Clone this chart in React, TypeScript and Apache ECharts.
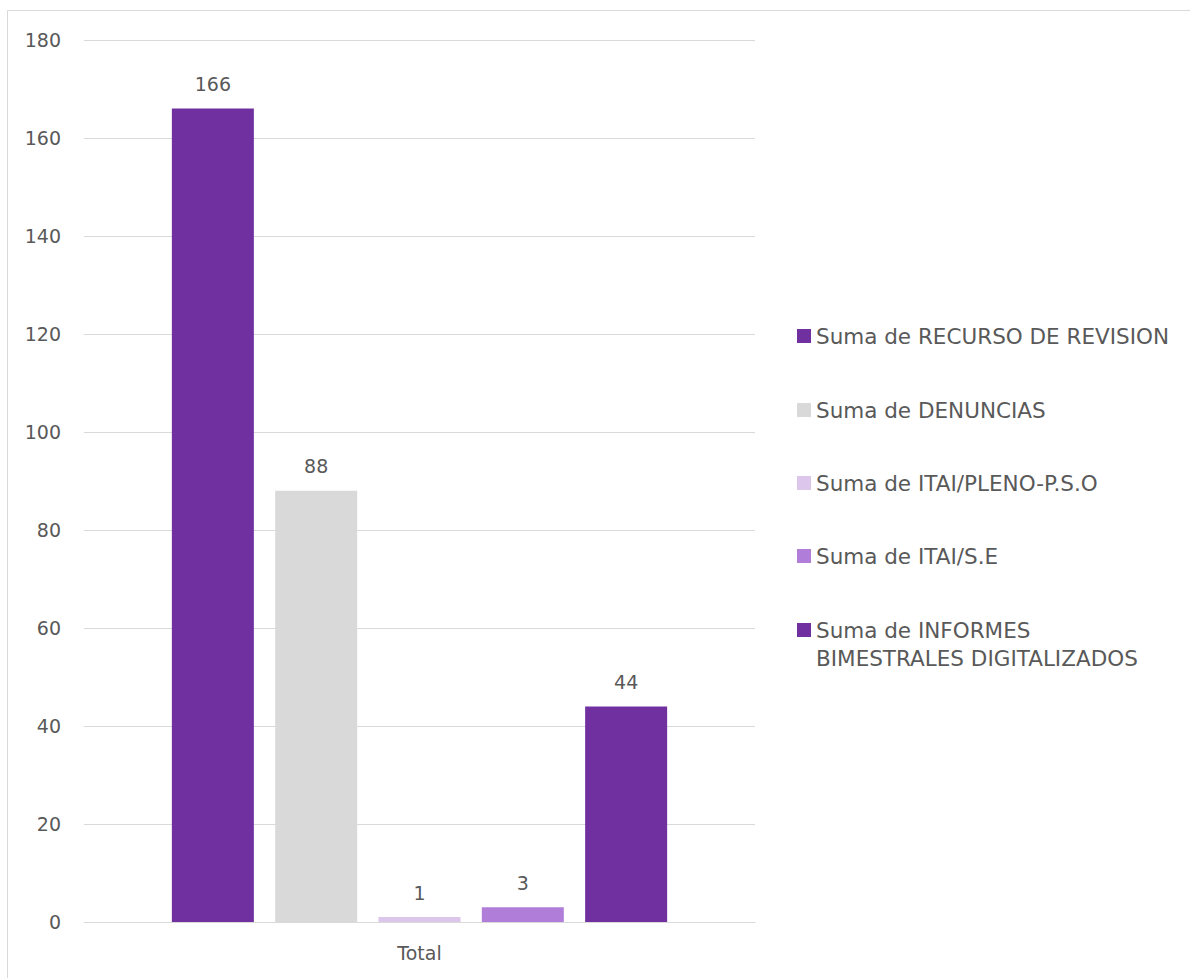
import React, { useEffect, useRef } from "react";
import * as echarts from "echarts";

const categories = ["Total"];
const seriesNames = [
  "Suma de RECURSO DE REVISION",
  "Suma de DENUNCIAS",
  "Suma de ITAI/PLENO-P.S.O",
  "Suma de ITAI/S.E",
  "Suma de INFORMES BIMESTRALES DIGITALIZADOS",
];
const seriesValues = [166, 88, 1, 3, 44];
const seriesColors = ["#7030A0", "#D9D9D9", "#DCC6EB", "#B07DD8", "#7030A0"];
const yTicks = { min: 0, max: 180, interval: 20 };

const FONT = "DejaVu Sans";
const TXT = "#595959";

export default function App() {
  const ref = useRef<HTMLDivElement>(null);
  useEffect(() => {
    if (!ref.current) return;
    const chart = echarts.init(ref.current, undefined, { renderer: "svg" });
    const legendTops = [325, 399, 472, 545, 619];
    chart.setOption({
      animation: false,
      backgroundColor: "#ffffff",
      grid: { left: 84, right: 1190 - 755, top: 40, bottom: 978 - 922, containLabel: false },
      xAxis: {
        type: "category",
        data: categories,
        axisLine: { show: true, lineStyle: { color: "#D9D9D9", width: 1 } },
        axisTick: { show: false },
        axisLabel: { color: TXT, fontFamily: FONT, fontSize: 19, margin: 21 },
      },
      yAxis: {
        type: "value",
        min: yTicks.min,
        max: yTicks.max,
        interval: yTicks.interval,
        axisLine: { show: false },
        axisTick: { show: false },
        splitLine: { lineStyle: { color: "#D9D9D9", width: 1 } },
        axisLabel: { color: TXT, fontFamily: FONT, fontSize: 19, margin: 23 },
      },
      legend: seriesNames.map((n, i) => ({
        data: [n],
        orient: "vertical",
        left: 797,
        top: legendTops[i],
        padding: 0,
        itemWidth: 14,
        itemHeight: 14,
        itemGap: 6,
        icon: "rect",
        formatter: (name: string) =>
          name === "Suma de INFORMES BIMESTRALES DIGITALIZADOS" ? "Suma de INFORMES" : name,
        textStyle: { color: TXT, fontFamily: FONT, fontSize: 21.5 },
      })),
      graphic: [
        {
          type: "rect",
          shape: { x: 7.5, y: 10.5, width: 1300, height: 1100 },
          style: { fill: "none", stroke: "#D9D9D9", lineWidth: 1 },
          silent: true,
          z: -10,
        },
        {
          type: "text",
          left: 816,
          top: 647,
          style: { text: "BIMESTRALES DIGITALIZADOS", fill: TXT, font: `21.5px "${FONT}"` },
        },
      ],
      series: seriesNames.map((n, i) => ({
        type: "bar",
        name: n,
        data: [seriesValues[i]],
        barWidth: 82,
        barGap: "26%",
        itemStyle: { color: seriesColors[i] },
        label: {
          show: true,
          position: "top",
          distance: 15,
          color: TXT,
          fontFamily: FONT,
          fontSize: 19,
        },
      })),
    });
    return () => chart.dispose();
  }, []);
  return (
    <div
      ref={ref}
      style={{ position: "absolute", left: 0, top: 0, width: 1190, height: 978 }}
    />
  );
}
